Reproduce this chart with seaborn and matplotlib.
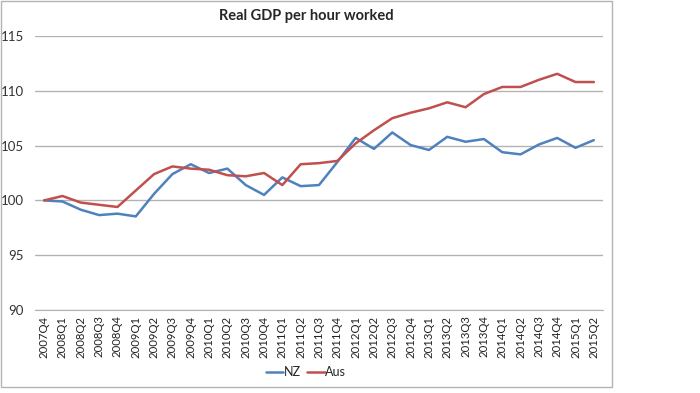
import pandas as pd
import matplotlib.pyplot as plt
import matplotlib.patches as mpatches
import seaborn as sns

quarters = [f"{y}Q{q}" for y in range(2007, 2016) for q in range(1, 5)]
quarters = quarters[3:3 + 31]  # 2007Q4 .. 2015Q2

nz = [100.0, 99.9, 99.15, 98.66, 98.79, 98.54, 100.6, 102.4, 103.3, 102.5,
      102.9, 101.4, 100.5, 102.1, 101.3, 101.4, 103.5, 105.7, 104.7, 106.2,
      105.05, 104.6, 105.8, 105.35, 105.6, 104.4, 104.2, 105.1, 105.7, 104.8,
      105.5]
aus = [100.0, 100.4, 99.8, 99.6, 99.4, 100.9, 102.4, 103.1, 102.9, 102.8,
       102.3, 102.2, 102.5, 101.4, 103.3, 103.4, 103.6, 105.2, 106.4, 107.5,
       108.0, 108.4, 108.95, 108.5, 109.7, 110.35, 110.35, 111.0, 111.55, 110.8,
       110.8]

df = pd.DataFrame({"quarter": quarters, "NZ": nz, "Aus": aus})
long = df.melt(id_vars="quarter", var_name="series", value_name="value")

sns.set_style("white")
plt.rcParams['font.family'] = ['Lato', 'DejaVu Sans']

W, H = 700, 393
fig = plt.figure(figsize=(W / 100, H / 100), dpi=100)
ax = fig.add_axes([35 / W, 1 - 310 / H, (603 - 35) / W, (310 - 36) / H])

sns.lineplot(data=long, x="quarter", y="value", hue="series", sort=False,
             palette={"NZ": "#4F81BD", "Aus": "#C0504D"}, linewidth=1.8,
             ax=ax, legend=False)

ax.set_xlim(-0.5, len(quarters) - 0.5)
ax.set_ylim(90, 115)
ax.set_yticks(range(90, 116, 5))
ax.yaxis.grid(True, color="#B3B3B3", linewidth=1)
ax.set_axisbelow(True)
for s in ["top", "right", "left"]:
    ax.spines[s].set_visible(False)
ax.spines["bottom"].set_color("#B3B3B3")
ax.tick_params(axis="y", length=0, labelsize=9.5, colors="#333333", pad=8)
ax.tick_params(axis="x", length=0, labelsize=8.2, colors="#222222", rotation=90, pad=4)
ax.set_xlabel("")
ax.set_ylabel("")

fig.text(306 / W, 1 - 16 / H, "Real GDP per hour worked", ha="center", va="center",
         fontsize=10.5, fontweight="bold")

handles = [plt.Line2D([], [], color="#4F81BD", lw=1.8),
           plt.Line2D([], [], color="#C0504D", lw=1.8)]
fig.legend(handles, ["NZ", "Aus"], loc="center", bbox_to_anchor=(306 / W, 1 - 372 / H),
           ncol=2, frameon=False, fontsize=9, handlelength=1.4, handletextpad=0.05,
           columnspacing=0.5)

fig.patches.append(mpatches.Rectangle((0.5 / W, 1 - 386.5 / H), 611.5 / W, 386 / H,
                                      transform=fig.transFigure, fill=False,
                                      edgecolor="#B3B3B3", linewidth=1))

fig.savefig("out.png", dpi=100)
